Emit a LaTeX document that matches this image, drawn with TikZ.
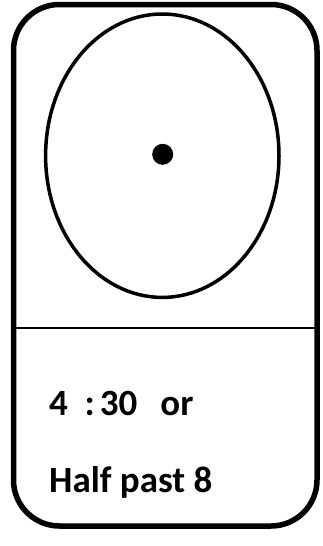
\documentclass[tikz,border=0pt]{standalone}
\usepackage{fontspec}
\setmainfont{Carlito}
\usepackage{tikz}
\usetikzlibrary{positioning}

\begin{document}
\begin{tikzpicture}[x=1pt,y=-1pt,
		cardtext/.style={anchor=base west, inner sep=0pt, font=\bfseries\fontsize{37}{37}\selectfont}]
		\useasboundingbox (0,0) rectangle (323,546);
		\draw[line width=5.5pt, rounded corners=46pt] (13.5,4.5) rectangle (317,526);
		\draw[line width=3.5pt] (162.3,155.7) ellipse [x radius=116.7pt, y radius=141.7pt];
		\fill (162.7,154.3) circle [radius=10.5pt];
		\draw[line width=2.5pt] (13.5,328) -- (317,328);
		\node[cardtext] (clocktime) at (49,415) {4\hspace{0.45em}:\hspace{0.14em}30\hspace{0.62em}or};
		\node[cardtext] (clockwords) at (49,492) {Half past 8};
	\end{tikzpicture}
\end{document}
